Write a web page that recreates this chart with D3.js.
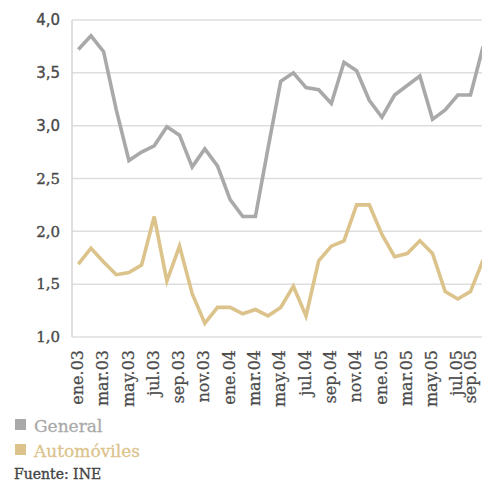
<!DOCTYPE html>
<html>
<head>
<meta charset="utf-8">
<script src="https://cdn.jsdelivr.net/npm/d3@7"></script>
<style>
html,body{margin:0;padding:0;background:#fff;}
svg{display:block;}
</style>
</head>
<body>
<svg id="chart" width="482" height="482"></svg>
<script>
const months = ["ene.03","feb.03","mar.03","abr.03","may.03","jun.03","jul.03","ago.03","sep.03","oct.03","nov.03","dic.03",
"ene.04","feb.04","mar.04","abr.04","may.04","jun.04","jul.04","ago.04","sep.04","oct.04","nov.04","dic.04",
"ene.05","feb.05","mar.05","abr.05","may.05","jun.05","jul.05","ago.05","sep.05"];
const tickLabels = ["ene.03","mar.03","may.03","jul.03","sep.03","nov.03","ene.04","mar.04","may.04","jul.04","sep.04","nov.04","ene.05","mar.05","may.05","jul.05","sep.05"];
const general = [3.72,3.85,3.70,3.15,2.67,2.75,2.81,2.99,2.91,2.61,2.78,2.62,
2.30,2.14,2.14,2.79,3.42,3.50,3.36,3.34,3.21,3.60,3.52,3.24,
3.08,3.29,3.38,3.47,3.06,3.15,3.29,3.29,3.75];
const automoviles = [1.69,1.84,1.71,1.59,1.61,1.68,2.14,1.53,1.86,1.41,1.13,1.28,
1.28,1.22,1.26,1.20,1.28,1.48,1.20,1.72,1.86,1.91,2.25,2.25,
1.97,1.76,1.79,1.91,1.79,1.43,1.36,1.43,1.73];
const yTicks = [1.0,1.5,2.0,2.5,3.0,3.5,4.0];
const seriesNames = ["General","Automóviles"];
const colors = ["#a9a9a9","#dcc38b"];
const source = "Fuente: INE";

const svg = d3.select("#chart");
const mLeft = 72, mTop = 20, mBottom = 337;
const x = d3.scaleBand().domain(months).range([mLeft, mLeft + 33*12.65]);
const y = d3.scaleLinear().domain([1,4]).range([mBottom, mTop]);

// gridlines
svg.append("g").selectAll("line").data(yTicks).join("line")
  .attr("x1", mLeft).attr("x2", 482)
  .attr("y1", d=>y(d)).attr("y2", d=>y(d))
  .attr("stroke", "#dedede").attr("stroke-width", 1.5);
// left axis line
svg.append("line").attr("x1", mLeft).attr("x2", mLeft).attr("y1", y(4)).attr("y2", y(1))
  .attr("stroke", "#d4d4d4").attr("stroke-width", 1.5);

// y labels
svg.append("g").selectAll("text").data(yTicks).join("text")
  .attr("x", 60).attr("y", d=>y(d)).attr("dy","0.35em")
  .attr("text-anchor","end")
  .attr("font-family", d => d >= 3 ? "'DejaVu Sans', sans-serif" : "'DejaVu Serif', serif")
  .attr("font-size", 15).attr("fill", "#4a4a4a")
  .attr("stroke","#4a4a4a").attr("stroke-width",0.35)
  .text(d => d3.format(".1f")(d).replace(".", ","));

// x labels
svg.append("g").selectAll("text").data(tickLabels).join("text")
  .attr("transform", (d,i) => {
    let cx = x(d)+x.bandwidth()/2 - 1;
    cx = Math.min(cx, 470);
    return `translate(${cx},350) rotate(-90)`;
  })
  .attr("dy","0.35em")
  .attr("text-anchor","end")
  .attr("font-family","'DejaVu Serif', serif")
  .attr("font-size", 16).attr("fill","#4a4a4a")
  .attr("stroke","#4a4a4a").attr("stroke-width",0.25)
  .text(d=>d);

// lines
const line = d3.line().x((d,i)=>x(months[i])+x.bandwidth()/2).y(d=>y(d));
[general, automoviles].forEach((s,k)=>{
  svg.append("path").datum(s).attr("d", line)
    .attr("fill","none").attr("stroke", colors[k]).attr("stroke-width", 3.6)
    .attr("stroke-linejoin","miter");
});

// legend
const legY = [419, 444];
seriesNames.forEach((n,k)=>{
  svg.append("rect").attr("x",15).attr("y",legY[k]).attr("width",11).attr("height",11).attr("fill",colors[k]);
  svg.append("text").attr("x",34).attr("y",legY[k]+13)
    .attr("font-family","'DejaVu Serif', serif").attr("font-size",17).attr("fill",colors[k])
    .attr("stroke",colors[k]).attr("stroke-width",0.3).text(n);
});
svg.append("text").attr("x",14).attr("y",479)
  .attr("font-family","'DejaVu Serif', serif").attr("font-size",14).attr("fill","#444")
  .attr("stroke","#444").attr("stroke-width",0.35)
  .text(source);
</script>
</body>
</html>
